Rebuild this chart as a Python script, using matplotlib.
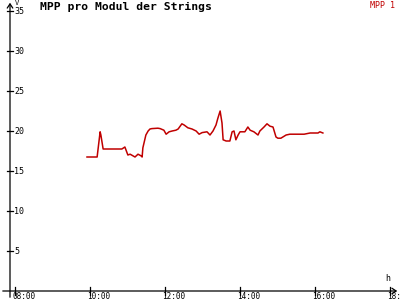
import matplotlib.pyplot as plt
from matplotlib.patches import FancyArrowPatch

# time in decimal hours, MPP voltage per module
hours = [9.92, 10.19, 10.27, 10.29, 10.35, 10.85, 10.93, 11.01, 11.07, 11.20,
         11.28, 11.36, 11.39, 11.41, 11.49, 11.55, 11.60, 11.65, 11.81, 11.87,
         11.97, 12.03, 12.11, 12.19, 12.29, 12.35, 12.45, 12.51, 12.61, 12.72,
         12.83, 12.91, 12.99, 13.12, 13.20, 13.28, 13.36, 13.41, 13.47, 13.52,
         13.55, 13.63, 13.73, 13.79, 13.84, 13.89, 13.95, 14.00, 14.13, 14.21,
         14.27, 14.37, 14.48, 14.53, 14.64, 14.72, 14.80, 14.88, 14.96, 15.01,
         15.09, 15.23, 15.33, 15.71, 15.87, 16.08, 16.13, 16.21]
volts = [16.75, 16.75, 19.9, 19.5, 17.75, 17.75, 18.0, 17.0, 17.1, 16.75,
         17.1, 16.9, 16.75, 17.9, 19.5, 20.0, 20.25, 20.3, 20.35, 20.3,
         20.1, 19.6, 19.9, 20.0, 20.1, 20.25, 20.9, 20.75, 20.4, 20.25,
         20.0, 19.6, 19.8, 19.9, 19.5, 20.0, 20.75, 21.6, 22.5, 21.0,
         18.9, 18.75, 18.75, 19.9, 20.0, 18.9, 19.5, 19.9, 19.9, 20.5,
         20.1, 19.9, 19.5, 20.0, 20.5, 20.9, 20.6, 20.5, 19.25, 19.1,
         19.1, 19.5, 19.6, 19.6, 19.75, 19.75, 19.9, 19.75]

x_ticks = [8, 10, 12, 14, 16, 18]
x_labels = ["08:00", "10:00", "12:00", "14:00", "16:00", "18:00"]
y_ticks = [5, 10, 15, 20, 25, 30, 35]

MONO = "DejaVu Sans Mono"
RED = "#c00000"

fig = plt.figure(figsize=(4, 3), dpi=100)
ax = fig.add_axes([0, 0, 1, 1])
x0, x1 = 8 - 15 / 37.5, 8 + 385 / 37.5
y0, y1 = -9 / 8, 291 / 8
ax.set_xlim(x0, x1)
ax.set_ylim(y0, y1)
ax.axis("off")

yaxis_x = 8 - 5 / 37.5
# axes lines with arrows
ax.add_patch(FancyArrowPatch((x0, 0), (x1, 0), arrowstyle="->,head_length=3,head_width=2",
                             color="black", lw=0.9, mutation_scale=1))
ax.add_patch(FancyArrowPatch((yaxis_x, y0), (yaxis_x, y1), arrowstyle="->,head_length=3,head_width=2",
                             color="black", lw=0.9, mutation_scale=1))

dx = 3 / 37.5
dy = 3 / 8
for t, lab in zip(x_ticks, x_labels):
    ax.plot([t, t], [-dy * 1.3, dy * 1.3], color="black", lw=0.9)
    ax.text(t - 3 / 37.5, -0.15, lab, fontsize=5.5, family=MONO, ha="left", va="top")
for v in y_ticks:
    ax.plot([yaxis_x - dx, yaxis_x + dx], [v, v], color="black", lw=0.9)
    ax.text(yaxis_x + 4 / 37.5, v, str(v), fontsize=6, family=MONO, ha="left", va="center")

ax.text(yaxis_x + 5 / 37.5, y1 - 0.05, "V", fontsize=5, family=MONO, ha="left", va="top")
ax.text(18.0 - 5 / 37.5, 1.0, "h", fontsize=6, family=MONO, ha="left", va="bottom")

ax.plot(hours, volts, color=RED, lw=1.1)

fig.text(40 / 400, 1 - 2 / 300, "MPP pro Modul der Strings", fontsize=8.2, family=MONO,
         fontweight="bold", ha="left", va="top")
fig.text(395 / 400, 1 - 1 / 300, "MPP 1", fontsize=6, family=MONO, color=RED,
         ha="right", va="top")

fig.savefig("out.png", dpi=100)
